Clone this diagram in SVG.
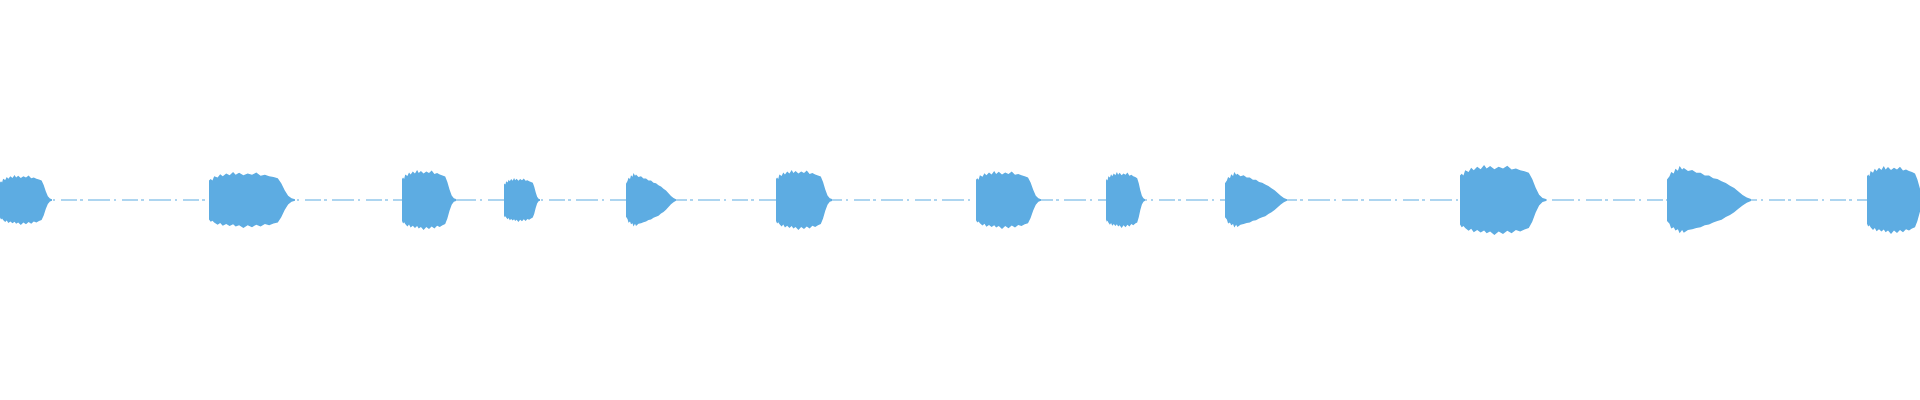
<svg xmlns="http://www.w3.org/2000/svg" width="1920" height="400" viewBox="0 0 1920 400">
<style>.w{fill:#5dace2}.c{stroke:#5dace2;stroke-width:1.2;fill:none}</style>
<defs>
<path id="s" d="M0,-0.7 L0.02,-0.75 0.04,-0.7 0.06,-0.85 0.1,-0.8 0.13,-0.92 0.16,-0.85 0.2,-0.95 0.24,-0.88 0.28,-1 0.31,-0.9 0.35,-0.97 0.4,-0.88 0.45,-0.95 0.5,-0.9 0.55,-0.98 0.6,-0.87 0.65,-0.9 0.7,-0.85 0.75,-0.82 0.8,-0.78 0.84,-0.6 0.88,-0.35 0.92,-0.15 0.96,-0.06 1,-0.03 1,0.03 0.96,0.06 0.92,0.16 0.88,0.36 0.84,0.62 0.8,0.8 0.75,0.84 0.7,0.9 0.65,0.86 0.6,0.95 0.55,0.88 0.5,0.97 0.45,0.9 0.4,1 0.35,0.9 0.31,0.95 0.28,0.87 0.24,0.93 0.2,0.86 0.16,0.92 0.13,0.82 0.1,0.88 0.06,0.8 0.04,0.74 0.02,0.78 0,0.7Z"/>
<path id="d" d="M0,-0.6 L0.03,-0.7 0.05,-0.82 0.08,-0.78 0.1,-0.92 0.13,-0.86 0.15,-1 0.18,-0.9 0.2,-0.94 0.25,-0.85 0.3,-0.88 0.35,-0.8 0.4,-0.8 0.45,-0.72 0.5,-0.72 0.55,-0.64 0.6,-0.62 0.65,-0.55 0.7,-0.5 0.75,-0.42 0.8,-0.35 0.85,-0.25 0.9,-0.15 0.95,-0.07 1,-0.03 1,0.03 0.95,0.08 0.9,0.16 0.85,0.26 0.8,0.36 0.75,0.44 0.7,0.5 0.65,0.58 0.6,0.62 0.55,0.66 0.5,0.72 0.45,0.74 0.4,0.8 0.35,0.82 0.3,0.86 0.25,0.88 0.2,0.96 0.18,0.88 0.15,0.98 0.13,0.86 0.1,0.9 0.08,0.8 0.05,0.84 0.03,0.7 0,0.62Z"/>
</defs>
<g id="connectors"><line class="c" x1="0" y1="200" x2="1920" y2="200" stroke-dasharray="16 3 3 5 22 4 2 6"/></g>
<g id="b1"><use href="#s" class="w" transform="translate(0,200) scale(52,25)"/></g>
<g id="b2"><use href="#s" class="w" transform="translate(209,200) scale(86,28)"/></g>
<g id="b3"><use href="#s" class="w" transform="translate(402,200) scale(54,30)"/></g>
<g id="b4"><use href="#s" class="w" transform="translate(504,200) scale(36,22)"/></g>
<g id="b5"><use href="#d" class="w" transform="translate(626,200) scale(50,27)"/></g>
<g id="b6"><use href="#s" class="w" transform="translate(776,200) scale(56,30)"/></g>
<g id="b7"><use href="#s" class="w" transform="translate(976,200) scale(65,29)"/></g>
<g id="b8"><use href="#s" class="w" transform="translate(1106,200) scale(39,28)"/></g>
<g id="b9"><use href="#d" class="w" transform="translate(1225,200) scale(62,28)"/></g>
<g id="b10"><use href="#s" class="w" transform="translate(1460,200) scale(86,35)"/></g>
<g id="b11"><use href="#d" class="w" transform="translate(1667,200) scale(84,34)"/></g>
<g id="b12"><use href="#s" class="w" transform="translate(1867,200) scale(60,34)"/></g>
</svg>
